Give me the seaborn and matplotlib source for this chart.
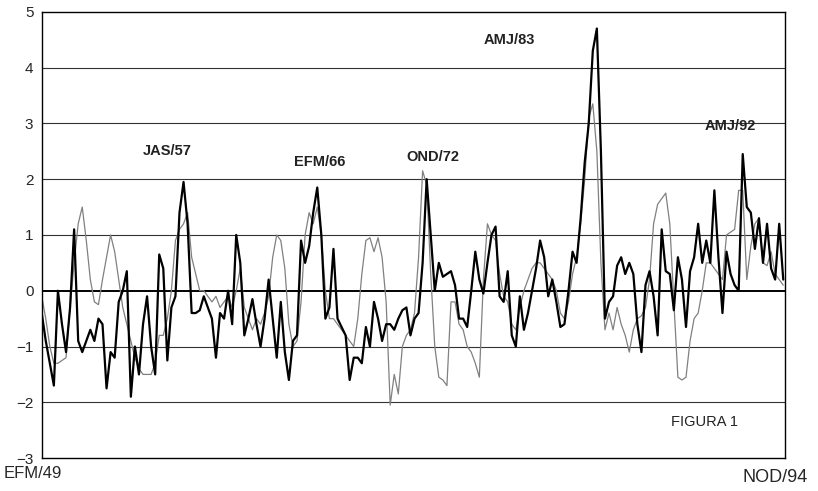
import numpy as np
import pandas as pd
import seaborn as sns
import matplotlib.pyplot as plt

sns.set_style("white")
plt.rcParams["font.family"] = ["Liberation Sans", "DejaVu Sans"]

# seasonal index, first season EFM/49 ... last season NOD/94
first_label = "EFM/49"
last_label = "NOD/94"

# thick series
dark = [
    -0.4, -0.9, -1.3, -1.7, 0.0, -0.6, -1.1, -0.3, 1.1, -0.9,
    -1.1, -0.9, -0.7, -0.9, -0.5, -0.6, -1.75, -1.1, -1.2, -0.2,
    0.0, 0.35, -1.9, -1.0, -1.5, -0.6, -0.1, -1.0, -1.5, 0.65,
    0.4, -1.25, -0.3, -0.1, 1.4, 1.95, 1.2, -0.4, -0.4, -0.35,
    -0.1, -0.3, -0.5, -1.2, -0.4, -0.5, 0.0, -0.6, 1.0, 0.5,
    -0.8, -0.5, -0.15, -0.6, -1.0, -0.5, 0.2, -0.5, -1.2, -0.2,
    -1.1, -1.6, -0.9, -0.8, 0.9, 0.5, 0.8, 1.4, 1.85, 1.0,
    -0.5, -0.3, 0.75, -0.5, -0.65, -0.8, -1.6, -1.2, -1.2, -1.3,
    -0.65, -1.0, -0.2, -0.5, -0.9, -0.6, -0.6, -0.7, -0.5, -0.35,
    -0.3, -0.8, -0.5, -0.4, 0.5, 2.0, 1.0, 0.0, 0.5, 0.25,
    0.3, 0.35, 0.1, -0.5, -0.5, -0.65, 0.0, 0.7, 0.2, -0.05,
    0.5, 1.0, 1.15, -0.1, -0.2, 0.35, -0.8, -1.0, -0.1, -0.7,
    -0.4, 0.0, 0.4, 0.9, 0.6, -0.1, 0.2, -0.2, -0.65, -0.6,
    0.0, 0.7, 0.5, 1.3, 2.3, 3.0, 4.3, 4.7, 2.5, -0.5,
    -0.2, -0.1, 0.45, 0.6, 0.3, 0.5, 0.3, -0.6, -1.1, 0.1,
    0.35, -0.1, -0.8, 1.1, 0.35, 0.3, -0.35, 0.6, 0.2, -0.65,
    0.35, 0.6, 1.2, 0.5, 0.9, 0.5, 1.8, 0.6, -0.4, 0.7,
    0.3, 0.1, 0.0, 2.45, 1.5, 1.4, 0.75, 1.3, 0.5, 1.2,
    0.4, 0.2, 1.2, 0.2,
]

# thin grey series
light = [
    -0.1, -0.5, -1.0, -1.3, -1.3, -1.25, -1.2, -0.3, 0.5, 1.2,
    1.5, 0.9, 0.2, -0.2, -0.25, 0.2, 0.6, 1.0, 0.7, 0.2,
    -0.3, -0.6, -0.9, -1.2, -1.4, -1.5, -1.5, -1.5, -1.3, -0.8,
    -0.8, -0.5, 0.0, 0.9, 1.1, 1.2, 1.4, 0.6, 0.3, 0.0,
    0.0, -0.1, -0.2, -0.1, -0.3, -0.2, -0.1, -0.3, 0.0, 0.4,
    -0.3, -0.5, -0.7, -0.5, -0.6, -0.4, -0.1, 0.6, 1.0, 0.9,
    0.4, -0.6, -1.0, -0.9, -0.2, 1.0, 1.4, 1.2, 1.5, 1.0,
    0.0, -0.5, -0.5, -0.6, -0.7, -0.8, -0.9, -1.0, -0.5, 0.3,
    0.9, 0.95, 0.7, 0.95, 0.6, -0.2, -2.05, -1.5, -1.85, -1.0,
    -0.8, -0.7, -0.4, 0.6, 2.15, 1.9, 0.3, -1.0, -1.55, -1.6,
    -1.7, -0.2, -0.2, -0.6, -0.7, -1.0, -1.1, -1.3, -1.55, 0.2,
    1.2, 1.0, 0.9, 0.3, -0.1, -0.2, -0.6, -0.7, -0.3, 0.0,
    0.2, 0.4, 0.5, 0.5, 0.4, 0.3, 0.2, 0.0, -0.4, -0.5,
    -0.2, 0.3, 0.6, 1.2, 2.0, 3.1, 3.35, 2.5, 0.5, -0.7,
    -0.4, -0.7, -0.3, -0.6, -0.8, -1.1, -0.7, -0.5, -0.45, -0.3,
    0.2, 1.2, 1.55, 1.65, 1.75, 1.2, -0.2, -1.55, -1.6, -1.55,
    -0.9, -0.5, -0.4, 0.0, 0.5, 0.5, 0.4, 0.3, 0.2, 1.0,
    1.05, 1.1, 1.8, 1.8, 0.2, 0.8, 1.2, 1.3, 0.5, 0.45,
    0.7, 0.3, 0.2, 0.1,
]

annotations = ["JAS/57", "EFM/66", "OND/72", "AMJ/83", "AMJ/92"]
annot_idx = [31, 68.5, 96.5, 115.5, 170]
annot_val = [2.5, 2.3, 2.4, 4.5, 2.95]

df = pd.DataFrame({"t": np.arange(len(dark)), "dark": dark, "light": light})

fig = plt.figure(figsize=(8.18, 4.91), dpi=100)
ax = fig.add_axes([0.051, 0.067, 0.909, 0.909])

for v in range(-2, 5):
    ax.axhline(v, color="#333333" if v else "black", lw=0.8 if v else 1.4, zorder=1)

sns.lineplot(data=df, x="t", y="light", ax=ax, color="#808080", lw=0.9, zorder=2)
sns.lineplot(data=df, x="t", y="dark", ax=ax, color="black", lw=1.6, zorder=3)

ax.set_xlim(0, len(dark) - 0.5)
ax.set_ylim(-3, 5)
ax.set_yticks(range(-3, 6))
ax.set_xticks(df["t"])
ax.set_xticklabels([])
ax.tick_params(axis="x", direction="out", length=4, width=0.6, color="black")
ax.tick_params(axis="y", direction="out", length=5, width=0.8, color="black",
               labelsize=11, pad=1)
ax.set_xlabel("")
ax.set_ylabel("")
for s in ax.spines.values():
    s.set_color("black")
    s.set_linewidth(1.0)

for lab, i, v in zip(annotations, annot_idx, annot_val):
    ax.text(i, v, lab, ha="center", va="center", fontsize=10.5, fontweight="bold",
            color="#222222")

ax.text(0.892, 0.08, "FIGURA 1", transform=ax.transAxes, fontsize=10.5,
        ha="center", va="center", color="#222222")
fig.text(0.04, 0.02, first_label, fontsize=12, ha="center", va="bottom")
fig.text(0.947, 0.01, last_label, fontsize=13, ha="center", va="bottom")

fig.savefig("out.png", dpi=100)
